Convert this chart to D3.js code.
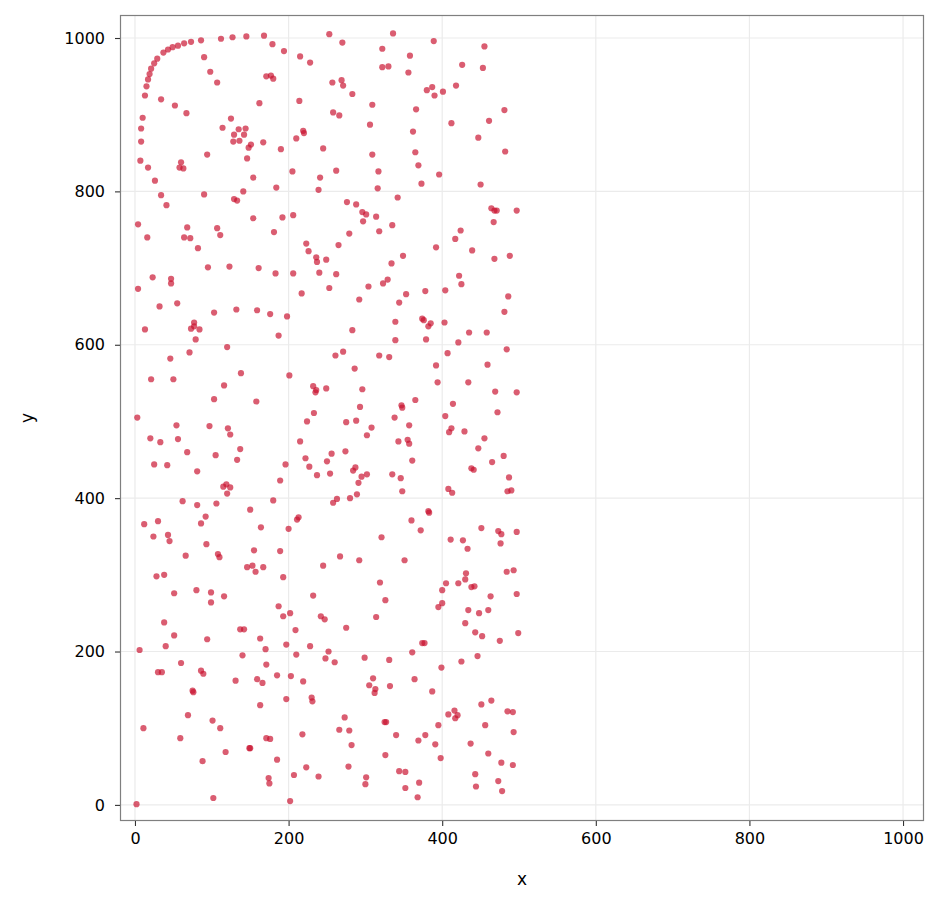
<!DOCTYPE html>
<html>
<head>
<meta charset="utf-8">
<script src="https://cdn.jsdelivr.net/npm/d3@7"></script>
<style>
  html, body { margin: 0; padding: 0; background: #fff; }
  svg { display: block; font-family: "DejaVu Sans", sans-serif; }
</style>
</head>
<body>
<svg id="chart" width="946" height="907"></svg>
<script>
// ---- data ----
const points = [
[86,997],[73,995],[64,993],[56,990],[49,988],[43,985],[37,981],[29,973],[25,967],[21,960],[19,953],[17,946],[15,937],[13,925],[112,999],[127,1001],[145,1002],[168,1003],[179,992],[194,983],[215,976],[228,968],[90,975],[98,956],[107,942],[171,950],[177,951],[180,947],[34,920],[52,912],[67,902],[162,915],[214,918],[10,896],[8,882],[8,865],[114,883],[125,895],[135,881],[144,882],[129,874],[142,874],[128,865],[136,866],[151,861],[148,857],[167,864],[190,855],[210,869],[219,879],[220,876],[94,848],[146,843],
[253,1005],[270,994],[336,1006],[322,986],[389,996],[358,977],[455,989],[322,962],[330,963],[356,955],[426,965],[453,961],[257,942],[269,945],[271,938],[283,927],[309,913],[380,932],[387,936],[390,925],[401,930],[418,938],[258,903],[266,899],[366,907],[481,906],[306,887],[412,889],[461,892],[362,878],[447,870],[245,856],[309,848],[365,851],[482,852],
[7,840],[17,831],[26,814],[60,838],[58,831],[63,830],[154,818],[205,826],[241,818],[184,805],[239,802],[34,795],[41,782],[90,796],[141,800],[129,790],[133,788],[4,757],[16,740],[68,753],[64,740],[72,739],[82,726],[107,752],[111,743],[154,765],[192,766],[206,769],[181,747],[223,732],[226,722],[236,714],[237,708],[240,694],[95,701],[123,702],[161,700],[183,693],[206,693],[23,688],[47,686],[47,680],[4,673],
[262,827],[317,826],[369,834],[396,822],[316,804],[373,810],[450,809],[342,792],[276,786],[288,783],[296,773],[301,770],[314,767],[297,761],[335,756],[318,748],[279,745],[464,778],[468,775],[471,775],[467,760],[424,749],[417,738],[265,730],[392,727],[439,723],[249,711],[349,716],[468,712],[488,716],[334,706],[262,692],[422,690],[425,679],[329,685],[323,680],[304,676],[253,674],
[217,667],[32,650],[55,654],[103,642],[132,646],[159,645],[176,640],[198,637],[13,620],[77,629],[73,621],[77,624],[84,620],[79,607],[187,612],[120,597],[46,582],[71,590],[21,555],[50,555],[138,563],[201,560],[116,547],[103,529],[158,526],[232,546],[236,541],[235,538],[233,511],[3,505],
[353,666],[378,670],[404,671],[292,659],[344,655],[486,663],[481,643],[339,630],[374,634],[376,632],[385,628],[382,624],[403,629],[283,619],[435,616],[458,616],[339,606],[379,607],[421,603],[484,594],[261,586],[271,591],[318,586],[331,584],[407,589],[286,569],[392,573],[459,574],[394,551],[434,551],[249,543],[296,542],[469,539],[472,512],[365,528],[414,523],[293,519],[347,521],[348,518],[338,505],[404,507],
[224,500],[54,495],[97,494],[121,491],[124,483],[20,478],[33,473],[56,477],[215,474],[137,464],[68,460],[105,456],[133,450],[222,452],[227,441],[237,430],[25,444],[42,443],[196,444],[81,435],[189,423],[115,415],[119,418],[124,414],[120,406],[62,396],[81,391],[106,393],[180,397],[150,385],[92,376],[86,367],[12,366],[30,370],[213,375],[211,372],[164,362],[200,360],[24,350],[43,352],[45,344],[93,340],
[275,499],[288,501],[308,492],[302,482],[357,495],[412,491],[409,486],[429,487],[455,478],[343,474],[355,476],[357,471],[256,458],[274,461],[447,465],[250,448],[361,449],[465,447],[480,455],[254,432],[284,436],[287,440],[295,428],[302,431],[291,420],[335,431],[346,426],[438,439],[441,437],[487,427],[348,409],[408,412],[413,407],[485,409],[258,394],[263,399],[280,400],[289,405],[382,383],[383,381],[360,371],[372,358],[321,349],[451,361],[473,357],[477,353],[411,346],[427,345],[476,341],[433,334],
[66,325],[108,327],[110,323],[155,332],[189,331],[28,298],[38,300],[146,310],[153,312],[157,304],[167,310],[193,297],[51,276],[80,280],[99,277],[99,264],[116,272],[232,273],[187,259],[193,246],[202,250],[38,238],[51,221],[94,216],[137,229],[142,229],[209,228],[163,217],[6,202],[40,207],[170,203],[197,209],[228,207],[140,195],[210,196],[60,185],[171,183],[30,173],[35,173],[86,175],[89,171],[185,169],[203,168],
[267,324],[245,312],[292,319],[351,319],[484,304],[431,302],[319,290],[405,289],[400,280],[421,289],[430,294],[438,284],[442,285],[463,272],[326,267],[395,258],[400,263],[434,254],[448,250],[460,254],[242,246],[247,242],[314,245],[275,231],[430,237],[443,225],[452,220],[475,214],[374,211],[377,211],[252,200],[248,191],[260,186],[299,192],[331,189],[361,199],[425,187],[446,194],[399,179],
[131,162],[159,164],[166,159],[219,161],[75,149],[76,147],[197,138],[163,130],[230,140],[231,135],[69,117],[101,110],[111,100],[11,100],[59,87],[171,87],[176,86],[218,92],[118,69],[149,74],[150,74],[88,57],[185,59],[223,49],[207,39],[239,37],[174,35],[175,28],[102,9],[2,1],[202,5],
[310,165],[305,156],[313,151],[312,146],[332,155],[364,164],[387,148],[451,131],[464,136],[485,122],[408,118],[416,123],[420,117],[417,113],[273,114],[266,98],[279,97],[325,108],[327,108],[395,104],[456,104],[340,91],[369,84],[378,91],[391,79],[282,78],[437,80],[460,67],[326,65],[398,61],[477,55],[278,50],[301,36],[300,27],[344,44],[352,43],[370,29],[352,22],[368,10],[443,40],[444,24],[473,31],[478,18],
[497,775],[497,356],[493,306],[497,275],[499,224],[492,121],[493,95],[492,52],[497,538],[490,410]
];
const xValues = points.map(p => p[0]);
const yValues = points.map(p => p[1]);
const xTicks = [0, 200, 400, 600, 800, 1000];
const yTicks = [0, 200, 400, 600, 800, 1000];
const xLabel = "x";
const yLabel = "y";

// ---- layout ----
const panel = { left: 120, right: 924, top: 15, bottom: 821 };
const svg = d3.select("#chart");

const x = d3.scaleLinear().domain([-19.5, 1027.3]).range([panel.left, panel.right]);
const y = d3.scaleLinear().domain([-21, 1030]).range([panel.bottom, panel.top]);

// background
svg.append("rect").attr("x", panel.left).attr("y", panel.top)
  .attr("width", panel.right - panel.left).attr("height", panel.bottom - panel.top)
  .attr("fill", "#fff");

// grid
const grid = svg.append("g").attr("stroke", "#ebebeb").attr("stroke-width", 1.2);
grid.selectAll("line.v").data(xTicks).join("line")
  .attr("x1", d => x(d)).attr("x2", d => x(d))
  .attr("y1", panel.top).attr("y2", panel.bottom);
grid.selectAll("line.h").data(yTicks).join("line")
  .attr("y1", d => y(d)).attr("y2", d => y(d))
  .attr("x1", panel.left).attr("x2", panel.right);

// points
svg.append("g").selectAll("circle").data(points).join("circle")
  .attr("cx", (d, i) => x(xValues[i]))
  .attr("cy", (d, i) => y(yValues[i]))
  .attr("r", 3.1)
  .attr("fill", "#c8102e")
  .attr("fill-opacity", 0.68);

// frame
svg.append("rect").attr("x", panel.left + 0.5).attr("y", panel.top + 0.5)
  .attr("width", panel.right - panel.left - 1).attr("height", panel.bottom - panel.top - 1)
  .attr("fill", "none").attr("stroke", "#7f7f7f").attr("stroke-width", 1.2);

// axes
const xAxis = svg.append("g").attr("transform", `translate(0,${panel.bottom})`)
  .call(d3.axisBottom(x).tickValues(xTicks).tickSize(5).tickPadding(7).tickFormat(d3.format("d")));
const yAxis = svg.append("g").attr("transform", `translate(${panel.left},0)`)
  .call(d3.axisLeft(y).tickValues(yTicks).tickSize(5).tickPadding(10).tickFormat(d3.format("d")));
[xAxis, yAxis].forEach(a => {
  a.select(".domain").remove();
  a.selectAll(".tick line").attr("stroke", "#333").attr("stroke-width", 1.1);
  a.selectAll(".tick text").attr("fill", "#000")
    .style("font-family", "'DejaVu Sans', sans-serif").style("font-size", "16px");
});

// axis titles
svg.append("text").attr("x", (panel.left + panel.right) / 2).attr("y", 885)
  .attr("text-anchor", "middle").attr("fill", "#000")
  .style("font-size", "17px").text(xLabel);
svg.append("text")
  .attr("transform", `translate(33,${(panel.top + panel.bottom) / 2}) rotate(-90)`)
  .attr("text-anchor", "middle").attr("fill", "#000")
  .style("font-size", "17px").text(yLabel);
</script>
</body>
</html>
